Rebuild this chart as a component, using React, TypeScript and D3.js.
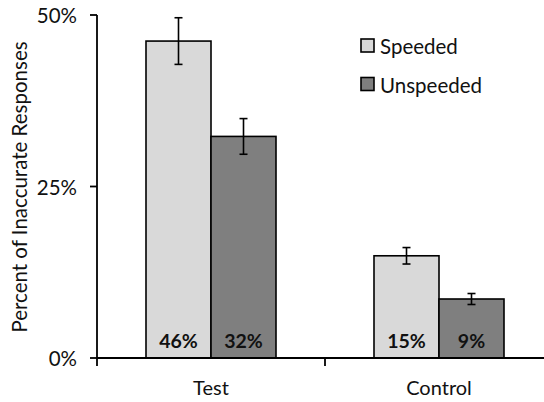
import React from "react";
import * as d3 from "d3";

const categories = ["Test", "Control"];
const seriesNames = ["Speeded", "Unspeeded"];
const speeded = [46.2, 14.9];
const unspeeded = [32.3, 8.6];
const speededErr = [3.4, 1.2];
const unspeededErr = [2.6, 0.8];
const valueLabels = [["46%", "15%"], ["32%", "9%"]];
const yTicks = [0, 25, 50];

const colors = ["#d9d9d9", "#7f7f7f"];
const font = "Lato, 'Open Sans', sans-serif";

export default function App() {
  const width = 544;
  const height = 402;
  const x = d3.scaleBand().domain(categories).range([97, 553]);
  const y = d3.scaleLinear().domain([0, 50]).range([358, 15]);
  const barW = 65;
  const series = [speeded, unspeeded];
  const errs = [speededErr, unspeededErr];

  return (
    <svg width={width} height={height} style={{ position: "absolute", left: 0, top: 0 }} fontFamily={font}>
      <rect width={width} height={height} fill="#fff" />
      {/* bars */}
      {categories.map((c, ci) => {
        const cx = x(c)! + x.bandwidth() / 2;
        return series.map((s, si) => {
          const bx = cx - barW + si * barW;
          const v = s[ci];
          const e = errs[si][ci];
          const ex = bx + barW / 2;
          return (
            <g key={c + si}>
              <rect x={bx} y={y(v)} width={barW} height={y(0) - y(v)} fill={colors[si]} stroke="#000" strokeWidth={1.6} />
              <line x1={ex} x2={ex} y1={y(v + e)} y2={y(v - e)} stroke="#000" strokeWidth={1.6} />
              <line x1={ex - 4} x2={ex + 4} y1={y(v + e)} y2={y(v + e)} stroke="#000" strokeWidth={1.6} />
              <line x1={ex - 4} x2={ex + 4} y1={y(v - e)} y2={y(v - e)} stroke="#000" strokeWidth={1.6} />
              <text x={ex} y={348} textAnchor="middle" fontWeight="bold" fontSize={19.5} fill="#111">
                {valueLabels[si][ci]}
              </text>
            </g>
          );
        });
      })}
      {/* y axis */}
      <line x1={97} x2={97} y1={y(50)} y2={366} stroke="#000" strokeWidth={1.8} />
      {yTicks.map((t) => (
        <g key={t}>
          <line x1={90} x2={97} y1={y(t)} y2={y(t)} stroke="#000" strokeWidth={1.8} />
          <text x={77} y={y(t) + 8} textAnchor="end" fontSize={20.5} fill="#111">
            {t}%
          </text>
        </g>
      ))}
      {/* x axis */}
      <line x1={97} x2={553} y1={y(0)} y2={y(0)} stroke="#000" strokeWidth={1.8} />
      {categories.map((c) => (
        <g key={c}>
          <line x1={x(c)! + x.bandwidth()} x2={x(c)! + x.bandwidth()} y1={y(0)} y2={366} stroke="#000" strokeWidth={1.8} />
          <text x={x(c)! + x.bandwidth() / 2} y={395} textAnchor="middle" fontSize={20} fill="#111">
            {c}
          </text>
        </g>
      ))}
      <text transform={`translate(27,187) rotate(-90)`} textAnchor="middle" fontSize={20.5} fill="#111">
        Percent of Inaccurate Responses
      </text>
      {/* legend */}
      {seriesNames.map((n, i) => (
        <g key={n} transform={`translate(361,${39 + i * 38.5})`}>
          <rect width={13} height={13} fill={colors[i]} stroke="#000" strokeWidth={1.6} />
          <text x={19} y={15} fontSize={20.5} fill="#111">
            {n}
          </text>
        </g>
      ))}
    </svg>
  );
}
